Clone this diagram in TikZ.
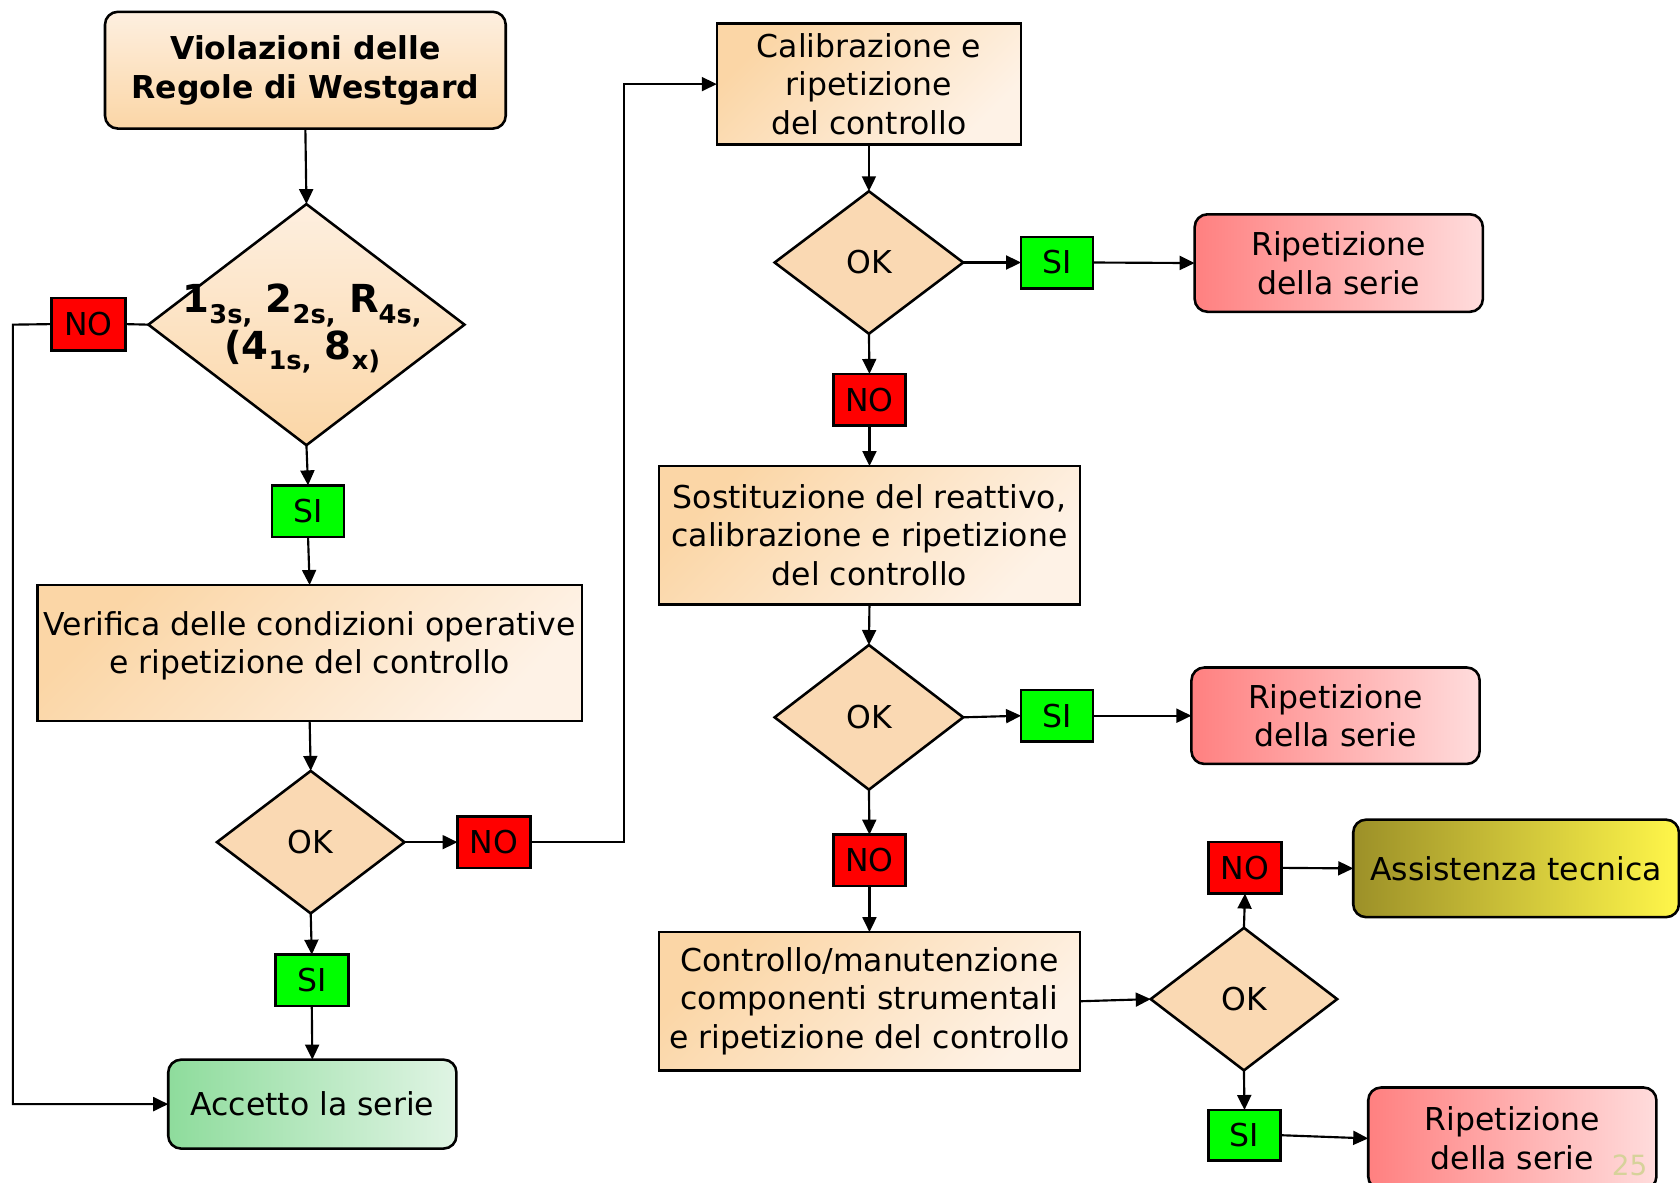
\documentclass[tikz,border=0pt]{standalone}
\usepackage{fontspec}
\setmainfont{DejaVu Sans}
\usetikzlibrary{shapes.geometric,arrows.meta}
\definecolor{peachD}{HTML}{FBD6A6}
\definecolor{peachL}{HTML}{FEF2E6}
\definecolor{okfill}{HTML}{FAD9B3}
\definecolor{redD}{HTML}{FF8080}
\definecolor{redL}{HTML}{FFDCDC}
\definecolor{grnD}{HTML}{8EDC9C}
\definecolor{grnL}{HTML}{E0F4E4}
\definecolor{oliveD}{HTML}{9C9028}
\definecolor{yelL}{HTML}{FFF64A}
\definecolor{pgnum}{HTML}{D6D29A}
\newcommand\fm{\fontsize{14.7}{18}\selectfont}
\newcommand\mysub[1]{\raisebox{-0.28em}{\fontsize{12}{12}\selectfont #1}}
\tikzset{
  sz/.style 2 args={minimum width=#1*0.5pt, minimum height=#2*0.5pt},
  base/.style={draw=black, line width=1.2pt, outer sep=0pt, inner sep=1pt, align=center, font=\fm},
  peachbox/.style={base, rectangle, top color=peachD, bottom color=peachL, shading angle=45},
  titlebox/.style={base, rectangle, rounded corners=6pt, top color=peachL!90!peachD, bottom color=peachD, font=\fm\bfseries},
  okdia/.style={base, diamond, fill=okfill, inner sep=0pt},
  redtag/.style={base, rectangle, fill=red},
  grntag/.style={base, rectangle, fill=green},
  ripbox/.style={base, rectangle, rounded corners=6pt, left color=redD, right color=redL},
  accbox/.style={base, rectangle, rounded corners=6pt, left color=grnD, right color=grnL},
  assbox/.style={base, rectangle, rounded corners=6pt, left color=oliveD, right color=yelL},
  arr/.style={line width=1pt, -{Triangle[length=7pt,width=6.5pt]}},
  ln/.style={line width=1pt}
}
\begin{document}
\begin{tikzpicture}[x=0.5pt,y=-0.5pt]
\useasboundingbox (0,0) rectangle (1568,1104);
% left column
\node[titlebox, sz={374}{109}] (title) at (285,65.5) {Violazioni delle\\Regole di Westgard};
\node[base, diamond, inner sep=0pt, sz={295}{225}, top color=peachL!90!peachD, bottom color=peachD] (d1) at (286,303) {};
\node[font=\fontsize{18}{21.5}\selectfont\bfseries, align=center, inner sep=0pt] (d1t) at (282,307)
  {1\mysub{3s,} 2\mysub{2s,} R\mysub{4s,}\\(4\mysub{1s,} 8\mysub{x)}};
\node[redtag, sz={69}{49}] (no1) at (82.5,302.5) {NO};
\node[grntag, sz={67}{48}] (si1) at (287.5,477) {SI};
\node[peachbox, sz={508}{127}, text depth=10pt] (verif) at (289,609.5) {Verifica delle condizioni operative\\e ripetizione del controllo};
\node[okdia, sz={175}{133}] (ok2) at (290,786) {OK};
\node[redtag, sz={68}{48}] (no2) at (461,786) {NO};
\node[grntag, sz={68}{48}] (si2) at (291,915) {SI};
\node[accbox, sz={269}{83}] (acc) at (291.5,1030.5) {Accetto la serie};
% right column
\node[peachbox, sz={284}{113}] (calib) at (811,78.5) {Calibrazione e\\ripetizione\\del controllo};
\node[okdia, sz={176}{133}] (ok3) at (811,245) {OK};
\node[grntag, sz={67}{48}] (si3) at (986.5,245) {SI};
\node[ripbox, sz={269}{91}] (rip1) at (1249.5,245.5) {Ripetizione\\della serie};
\node[redtag, sz={67}{48}] (no3) at (811.5,373) {NO};
\node[peachbox, sz={393}{129}] (sost) at (811.5,499.5) {Sostituzione del reattivo,\\calibrazione e ripetizione\\del controllo};
\node[okdia, sz={176}{135}] (ok4) at (811,669.5) {OK};
\node[grntag, sz={67}{48}] (si4) at (986.5,668) {SI};
\node[ripbox, sz={269}{90}] (rip2) at (1246.5,668) {Ripetizione\\della serie};
\node[redtag, sz={67}{48}] (no4) at (811.5,803) {NO};
\node[peachbox, sz={393}{129}] (contr) at (811.5,934.5) {Controllo/manutenzione\\componenti strumentali\\e ripetizione del controllo};
\node[okdia, sz={174}{133}] (ok5) at (1161,932.5) {OK};
\node[redtag, sz={68}{48}] (no5) at (1162,810) {NO};
\node[assbox, sz={304}{91}] (ass) at (1415,810.5) {Assistenza tecnica};
\node[grntag, sz={67}{47}] (si5) at (1161.5,1059.5) {SI};
\node[ripbox, sz={269}{95}] (rip3) at (1411.5,1062.5) {Ripetizione\\della serie};
\node[text=pgnum, font=\fontsize{13}{13}\selectfont, inner sep=0pt] (pnum) at (1521,1088) {25};
% connectors
\coordinate (lft) at (12,303);
\coordinate (mid) at (582,786);
\draw[arr] (title.south) -- (d1.north);
\draw[ln] (d1.west) -- (no1.east);
\draw[arr] (no1.west) -- (lft) |- (acc.west);
\draw[arr] (d1.south) -- (si1.north);
\draw[arr] (si1.south) -- (verif.north);
\draw[arr] (verif.south) -- (ok2.north);
\draw[arr] (ok2.east) -- (no2.west);
\draw[arr] (no2.east) -- (mid) |- (calib.west);
\draw[arr] (ok2.south) -- (si2.north);
\draw[arr] (si2.south) -- (acc.north);
\draw[arr] (calib.south) -- (ok3.north);
\draw[arr] (ok3.east) -- (si3.west);
\draw[arr] (si3.east) -- (rip1.west);
\draw[arr] (ok3.south) -- (no3.north);
\draw[arr] (no3.south) -- (sost.north);
\draw[arr] (sost.south) -- (ok4.north);
\draw[arr] (ok4.east) -- (si4.west);
\draw[arr] (si4.east) -- (rip2.west);
\draw[arr] (ok4.south) -- (no4.north);
\draw[arr] (no4.south) -- (contr.north);
\draw[arr] (contr.east) -- (ok5.west);
\draw[arr] (ok5.north) -- (no5.south);
\draw[arr] (no5.east) -- (ass.west);
\draw[arr] (ok5.south) -- (si5.north);
\draw[arr] (si5.east) -- (rip3.west);
\end{tikzpicture}
\end{document}
